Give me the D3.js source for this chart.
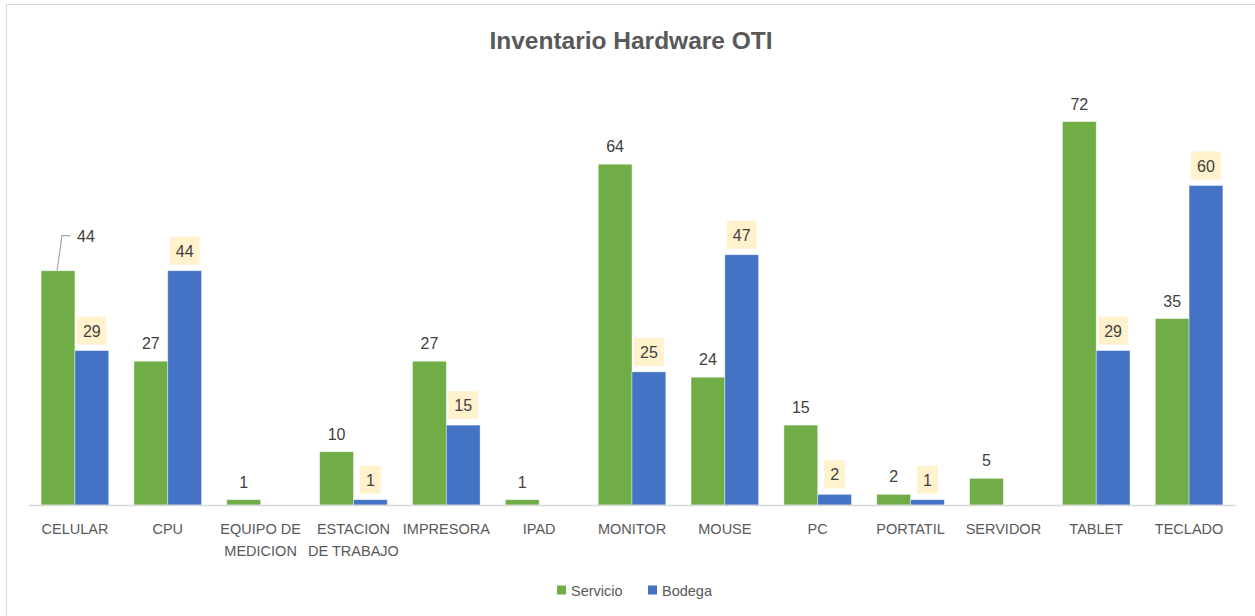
<!DOCTYPE html>
<html>
<head>
<meta charset="utf-8">
<script src="https://cdn.jsdelivr.net/npm/d3@7"></script>
<style>
  html, body { margin: 0; padding: 0; background: #fff; }
  svg { display: block; font-family: "Liberation Sans", Arial, sans-serif; }
</style>
</head>
<body>
<div id="chart"></div>
<script>
// data
const categories = ["CELULAR", "CPU", "EQUIPO DE|MEDICION", "ESTACION|DE TRABAJO", "IMPRESORA", "IPAD",
  "MONITOR", "MOUSE", "PC", "PORTATIL", "SERVIDOR", "TABLET", "TECLADO"];
const servicio = [44, 27, 1, 10, 27, 1, 64, 24, 15, 2, 5, 72, 35];
const bodega = [29, 44, null, 1, 15, null, 25, 47, 2, 1, null, 29, 60];
const seriesNames = ["Servicio", "Bodega"];
const seriesColors = ["#70AD47", "#4472C4"];

const width = 1255, height = 616;
const margin = { top: 79, right: 19.5, bottom: 111, left: 28.5 };

const svg = d3.select("#chart").append("svg")
  .attr("width", width)
  .attr("height", height);

// chart frame
svg.append("rect")
  .attr("x", 6.5).attr("y", 4.5)
  .attr("width", width + 10).attr("height", height + 10)
  .attr("fill", "#fff")
  .attr("stroke", "#d9d9d9");

svg.append("text")
  .attr("x", 631).attr("y", 48.5)
  .attr("text-anchor", "middle")
  .attr("font-size", 24.5)
  .attr("font-weight", "bold")
  .attr("fill", "#595959")
  .text("Inventario Hardware OTI");

const rows = categories.map((c, i) => ({ cat: c, values: [servicio[i], bodega[i]] }));

const x0 = d3.scaleBand()
  .domain(categories)
  .range([margin.left, width - margin.right])
  .paddingInner(0.272)
  .paddingOuter(0.136);

const x1 = d3.scaleBand()
  .domain(seriesNames)
  .range([0, x0.bandwidth()]);

const y = d3.scaleLinear()
  .domain([0, 80])
  .range([height - margin.bottom, margin.top]);

const groups = svg.append("g").selectAll("g")
  .data(rows)
  .join("g")
  .attr("transform", d => `translate(${x0(d.cat)},0)`);

groups.selectAll("rect")
  .data(d => d.values.map((v, k) => ({ key: seriesNames[k], k, v })).filter(e => e.v != null))
  .join("rect")
  .attr("x", e => x1(e.key))
  .attr("width", x1.bandwidth())
  .attr("y", e => y(e.v))
  .attr("height", e => y(0) - y(e.v))
  .attr("fill", e => seriesColors[e.k])
  .attr("stroke", "#fff")
  .attr("stroke-opacity", 0.5)
  .attr("stroke-width", 0.8);

// axis
const xAxis = svg.append("g")
  .attr("transform", `translate(0,${y(0)})`)
  .call(d3.axisBottom(x0).tickSize(0).tickFormat(""));
xAxis.select(".domain").attr("stroke", "#d9d9d9").attr("stroke-width", 1.5);

xAxis.selectAll(".tick").append("text")
  .attr("fill", "#595959")
  .attr("font-size", 14.5)
  .attr("text-anchor", "middle")
  .each(function (d) {
    const lines = d.split("|");
    d3.select(this).selectAll("tspan")
      .data(lines)
      .join("tspan")
      .attr("x", 0)
      .attr("y", (l, i) => 29 + i * 21.5)
      .text(l => l);
  });

// value labels
const labelFont = 16;
groups.each(function (d, i) {
  const g = d3.select(this);
  const s = d.values[0];
  const cx = x1("Servicio") + x1.bandwidth() / 2;
  if (i === 0) {
    // leader line on the first label
    const ly = y(s) - 35;
    g.append("path")
      .attr("d", `M${cx - 1},${y(s)}L${cx + 4},${ly}L${cx + 12},${ly}`)
      .attr("fill", "none")
      .attr("stroke", "#a6a6a6")
      .attr("stroke-width", 1.2);
    g.append("text")
      .attr("x", cx + 19).attr("y", ly + 6)
      .attr("font-size", labelFont).attr("fill", "#404040")
      .text(s);
  } else {
    g.append("text")
      .attr("x", cx).attr("y", y(s) - 12)
      .attr("text-anchor", "middle")
      .attr("font-size", labelFont).attr("fill", "#404040")
      .text(s);
  }
  const b = d.values[1];
  if (b != null) {
    const bx = x1("Bodega") + x1.bandwidth() / 2;
    const t = g.append("text")
      .attr("x", bx).attr("y", y(b) - 14)
      .attr("text-anchor", "middle")
      .attr("font-size", labelFont).attr("fill", "#404040")
      .text(b);
    const w = t.node().getComputedTextLength() + 12;
    g.insert("rect", function () { return t.node(); })
      .attr("x", bx - w / 2).attr("y", y(b) - 34)
      .attr("width", w).attr("height", 28)
      .attr("fill", "#FFF2CC");
  }
});

// legend
const legend = svg.append("g").attr("transform", "translate(557,590)");
const items = [{ name: "Servicio", x: 0 }, { name: "Bodega", x: 91 }];
items.forEach((it, k) => {
  legend.append("rect")
    .attr("x", it.x).attr("y", -4.5)
    .attr("width", 9).attr("height", 9)
    .attr("fill", seriesColors[k]);
  legend.append("text")
    .attr("x", it.x + 14).attr("y", 5.5)
    .attr("font-size", 14.5).attr("fill", "#595959")
    .text(it.name);
});
</script>
</body>
</html>
